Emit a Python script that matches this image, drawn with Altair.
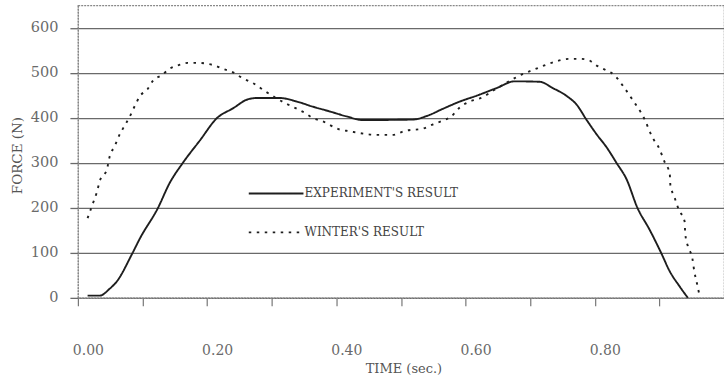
import altair as alt
import pandas as pd

# Experiment's result (solid)
exp_t = [0.015, 0.034, 0.049, 0.060, 0.084, 0.096, 0.124, 0.142, 0.162, 0.189, 0.215, 0.240,
         0.263, 0.277, 0.312, 0.339, 0.363, 0.390, 0.416, 0.441, 0.518, 0.540, 0.565, 0.591,
         0.617, 0.648, 0.676, 0.715, 0.735, 0.756, 0.772, 0.787, 0.803, 0.818, 0.834, 0.849,
         0.866, 0.885, 0.903, 0.916, 0.931, 0.944]
exp_f = [5, 5, 20, 36, 98, 132, 200, 255, 299, 350, 399, 421,
         441, 444, 444, 436, 425, 414, 403, 395, 396, 404, 420, 436,
         449, 466, 481, 480, 466, 449, 429, 396, 363, 335, 299, 264,
         200, 151, 99, 59, 26, 0]

# Winter's result (dotted)
win_t = [0.015, 0.023, 0.029, 0.034, 0.045, 0.049, 0.057, 0.065, 0.073, 0.080, 0.088, 0.096,
         0.108, 0.116, 0.130, 0.142, 0.158, 0.170, 0.186, 0.200, 0.212, 0.224, 0.240, 0.255,
         0.271, 0.292, 0.320, 0.336, 0.351, 0.363, 0.379, 0.405, 0.421, 0.436, 0.462, 0.487,
         0.506, 0.534, 0.549, 0.565, 0.578, 0.591, 0.606, 0.622, 0.648, 0.676, 0.688, 0.704,
         0.733, 0.761, 0.776, 0.789, 0.803, 0.818, 0.831, 0.843, 0.858, 0.877, 0.889, 0.900,
         0.908, 0.916, 0.917, 0.923, 0.930, 0.939, 0.940, 0.944, 0.951, 0.954, 0.958, 0.962]
win_f = [177, 209, 233, 260, 286, 313, 337, 364, 384, 402, 426, 448,
         464, 482, 495, 509, 518, 522, 522, 520, 516, 509, 501, 488,
         477, 457, 433, 422, 411, 400, 392, 374, 370, 366, 362, 362,
         371, 376, 385, 394, 403, 423, 436, 443, 465, 488, 497, 506,
         522, 531, 531, 529, 516, 505, 494, 472, 441, 397, 357, 331,
         302, 276, 251, 225, 196, 170, 143, 115, 88, 59, 33, 6]

series_names = ["EXPERIMENT'S RESULT", "WINTER'S RESULT"]
x_ticks = [0.0, 0.1, 0.2, 0.3, 0.4, 0.5, 0.6, 0.7, 0.8, 0.9]
y_ticks = [0, 100, 200, 300, 400, 500, 600]

df = pd.concat([
    pd.DataFrame({"t": exp_t, "f": exp_f, "series": series_names[0], "order": range(len(exp_t))}),
    pd.DataFrame({"t": win_t, "f": win_f, "series": series_names[1], "order": range(len(win_t))}),
])

FONT = "DejaVu Serif"
LABEL_COLOR = "#6a6a6a"

chart = alt.Chart(df).mark_line(color="#1e1e1e", strokeWidth=1.9, interpolate="monotone").encode(
    x=alt.X("t:Q",
            scale=alt.Scale(domain=[0, 1.0], nice=False, zero=False),
            axis=alt.Axis(values=x_ticks,
                          labelExpr="round(datum.value*10)%2==0 ? format(datum.value,'.2f') : ''",
                          labelFlush=False, labelOverlap=False,
                          tickSize=8, tickColor="#777", tickWidth=1.2,
                          domainColor="#888", domainWidth=1.2, domainDash=[2, 1],
                          labelPadding=38, labelOffset=10, labelFontSize=14,
                          labelColor=LABEL_COLOR, labelFont=FONT,
                          grid=False,
                          title="TIME (sec.)", titleX=326, titleY=71,
                          titleAlign="center", titleBaseline="middle",
                          titleFontSize=13, titleFontWeight="normal",
                          titleFont=FONT, titleColor="#555")),
    y=alt.Y("f:Q",
            scale=alt.Scale(domain=[0, 650], nice=False),
            axis=alt.Axis(values=y_ticks, grid=True, gridColor="#6a6a6a", gridWidth=1.3,
                          tickSize=8, tickColor="#6a6a6a", tickWidth=1.3,
                          domainColor="#888", domainWidth=1.2, domainDash=[2, 1],
                          labelPadding=12, labelFontSize=14.5,
                          labelColor=LABEL_COLOR, labelFont=FONT,
                          title="FORCE (N)", titleX=-60, titleY=150,
                          titleAngle=-90, titleAlign="center", titleBaseline="middle",
                          titleFontSize=13.5, titleFontWeight="normal",
                          titleFont=FONT, titleColor="#555")),
    strokeDash=alt.StrokeDash("series:N",
                              scale=alt.Scale(domain=series_names, range=[[1, 0], [2.5, 5.5]]),
                              legend=alt.Legend(orient="none", legendX=170, legendY=160,
                                                title=None, symbolType="stroke",
                                                symbolSize=3000, symbolStrokeWidth=1.8,
                                                symbolStrokeColor="#1e1e1e",
                                                labelFontSize=12, labelFont=FONT,
                                                labelColor="#444", labelOffset=0,
                                                rowPadding=4)),
    detail="series:N",
    order="order:Q",
).properties(
    width=647, height=293,
    autosize=alt.AutoSizeParams(type="none"),
    padding={"left": 78, "top": 5, "right": 0, "bottom": 84},
    background="white",
).configure_view(
    stroke="#888", strokeWidth=1.2, strokeDash=[2, 1]
)

chart.save("out.html", embed_options={"renderer": "svg", "actions": False})
